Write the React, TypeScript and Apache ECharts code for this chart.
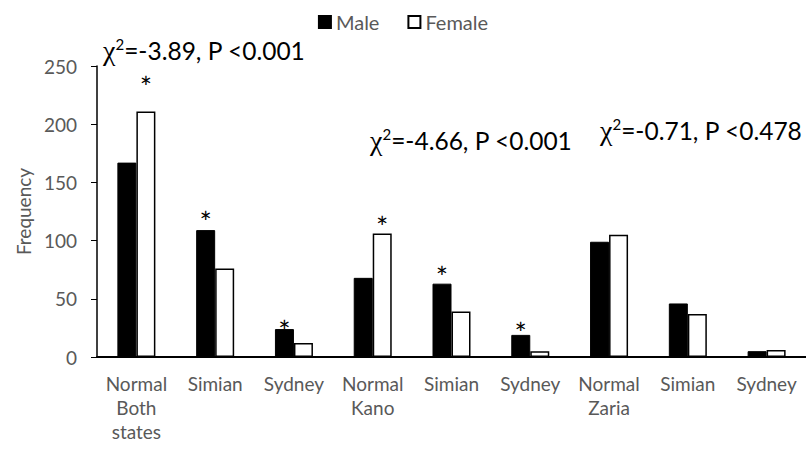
import React, { useEffect, useRef } from "react";
import * as echarts from "echarts";

const categories = [
  "Normal\nBoth\nstates",
  "Simian",
  "Sydney",
  "Normal\nKano",
  "Simian",
  "Sydney",
  "Normal\nZaria",
  "Simian",
  "Sydney",
];
const maleValues = [167, 109, 24, 68, 63, 19, 99, 46, 5];
const femaleValues = [211, 76, 12, 106, 39, 5, 105, 37, 6];
const maleSignificant = [false, true, true, false, true, true, false, false, false];
const femaleSignificant = [true, false, false, true, false, false, false, false, false];
const yTicks = { min: 0, max: 250, interval: 50 };
const annotations = ["=-3.89, P <0.001", "=-4.66, P <0.001", "=-0.71, P <0.478"];

const FONT = "Lato";
const GRAY = "#595959";

// label distance per category for the asterisk (style only)
const maleStarDist = [0, -6, -16, 0, -7, -12, 0, 0, 0];
const femaleStarDist = [10, 0, 0, -7, 0, 0, 0, 0, 0];

function buildData(values: number[], sig: boolean[], dist: number[]) {
  return values.map((v, i) =>
    sig[i]
      ? {
          value: v,
          label: {
            show: true,
            position: "top",
            distance: dist[i],
            formatter: "*",
            fontSize: 29,
            fontFamily: FONT,
            color: "#000",
          },
        }
      : v
  );
}

const annotationPos = [
  { x: 103, y: 50 },
  { x: 370, y: 140 },
  { x: 600, y: 130 },
];

export default function App() {
  const ref = useRef<HTMLDivElement>(null);
  useEffect(() => {
    if (!ref.current) return;
    const chart = echarts.init(ref.current, undefined, { renderer: "svg" });
    chart.setOption({
      animation: false,
      backgroundColor: "#fff",
      textStyle: { fontFamily: FONT },
      legend: {
        top: 7,
        left: "center",
        itemWidth: 12,
        itemHeight: 12,
        itemGap: 28,
        textStyle: { fontSize: 20, color: GRAY, fontFamily: FONT },
        data: [
          { name: "Male", icon: "rect" },
          { name: "Female", icon: "rect" },
        ],
      },
      grid: { left: 97, right: 0, top: 66, bottom: 95, containLabel: false },
      xAxis: {
        type: "category",
        data: categories,
        axisLine: { show: true, lineStyle: { color: "#000", width: 2 } },
        axisTick: { show: false },
        axisLabel: {
          interval: 0,
          fontSize: 19,
          color: GRAY,
          fontFamily: FONT,
          lineHeight: 24,
          margin: 14,
        },
      },
      yAxis: {
        type: "value",
        min: yTicks.min,
        max: yTicks.max,
        interval: yTicks.interval,
        name: "Frequency",
        nameLocation: "middle",
        nameGap: 64,
        nameTextStyle: { fontSize: 19, color: GRAY, fontFamily: FONT },
        axisLine: { show: true, lineStyle: { color: "#000", width: 1.5 } },
        axisTick: { show: true, inside: false, length: 6, lineStyle: { color: "#000" } },
        splitLine: { show: false },
        axisLabel: { fontSize: 19, color: GRAY, fontFamily: FONT, margin: 20 },
      },
      series: [
        {
          name: "Male",
          type: "bar",
          barWidth: 19,
          barGap: "0%",
          itemStyle: { color: "#000", borderColor: "#000", borderWidth: 1 },
          data: buildData(maleValues, maleSignificant, maleStarDist),
        },
        {
          name: "Female",
          type: "bar",
          barWidth: 19,
          barGap: "0%",
          itemStyle: { color: "#fff", borderColor: "#000", borderWidth: 1.5 },
          data: buildData(femaleValues, femaleSignificant, femaleStarDist),
        },
      ],
      graphic: annotations.map((t, i) => ({
        type: "text",
        x: annotationPos[i].x,
        y: annotationPos[i].y,
        style: {
          text: "{chi|χ}{sup|2}{t|" + t + "}",
          verticalAlign: "middle",
          align: "left",
          rich: {
            chi: { fontFamily: "Liberation Serif", fontSize: 28, fill: "#000" },
            sup: { fontFamily: FONT, fontSize: 15, fill: "#000", verticalAlign: "top", padding: [0, 0, 12, 0] },
            t: { fontFamily: FONT, fontSize: 24.5, fill: "#000" },
          },
        },
      })),
    });
    return () => chart.dispose();
  }, []);
  return (
    <div
      ref={ref}
      style={{ position: "fixed", left: 0, top: 0, width: 806, height: 452, background: "#fff" }}
    />
  );
}
